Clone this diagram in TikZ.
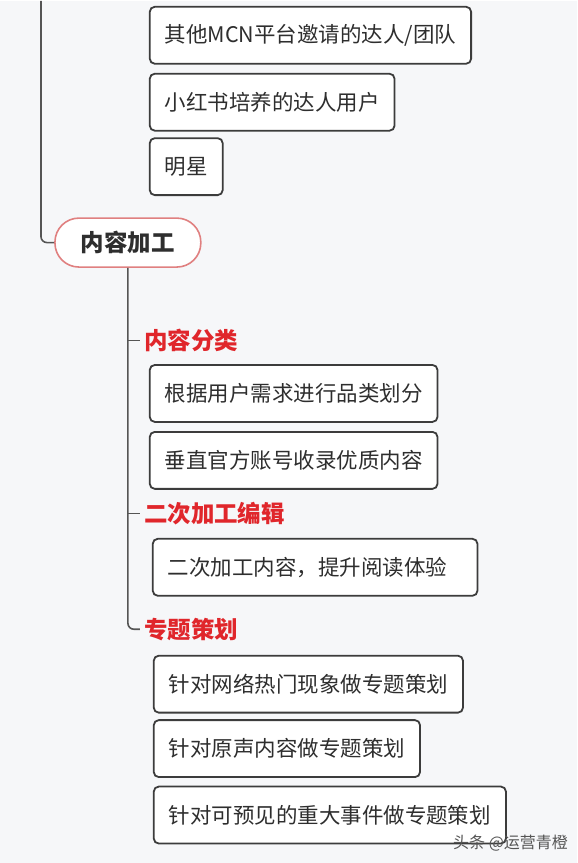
\documentclass[tikz,border=0pt]{standalone}
\usepackage{fontspec}
\newfontfamily\cjk{Noto Sans CJK SC}
\definecolor{fond}{HTML}{F6F7F9}
\definecolor{trait}{HTML}{555555}
\definecolor{cadre}{HTML}{3C3C3C}
\definecolor{texte}{HTML}{2E2E2E}
\definecolor{rouge}{HTML}{E0262B}
\definecolor{rose}{HTML}{E08080}
\begin{document}
\begin{tikzpicture}[x=1pt,y=-1pt]
            \tikzstyle{boite}=[draw=cadre,line width=1.8pt,rounded corners=5pt,fill=white,anchor=west,minimum height=57pt,inner xsep=15pt,text=texte,font=\cjk\fontsize{21.5}{22}\selectfont]
            \tikzstyle{titre}=[draw=rose,line width=1.6pt,rounded corners=24pt,fill=white,minimum width=146pt,minimum height=49pt,text=texte,font=\cjk\bfseries\fontsize{23.5}{24}\selectfont]
            \tikzstyle{rubrique}=[anchor=west,inner xsep=4pt,text=rouge,font=\cjk\bfseries\fontsize{23.5}{24}\selectfont]
            \tikzstyle{branche}=[draw=trait,line width=1.6pt,rounded corners=6pt]
            \fill[fond] (0,0) rectangle (578,863);
            \coordinate (haut) at (41,0);
            \node[boite] (mcn) at (149,34.5) {其他MCN平台邀请的达人/团队};
            \node[boite] (forme) at (149,101.5) {小红书培养的达人用户};
            \node[boite] (star) at (149,166) {明星};
            \node[titre] (contenu) at (128,242) {内容加工};
            \node[rubrique] (classe) at (140,340) {内容分类};
            \node[boite] (besoin) at (149,393) {根据用户需求进行品类划分};
            \node[boite] (vertical) at (149,460) {垂直官方账号收录优质内容};
            \node[rubrique] (edition) at (140,513) {二次加工编辑};
            \node[boite,text width=295pt,align=left] (lecture) at (152,567) {二次加工内容，提升阅读体验};
            \node[rubrique] (sujet) at (140,629) {专题策划};
            \node[boite] (reseau) at (153,684) {针对网络热门现象做专题策划};
            \node[boite] (voix) at (153,748.5) {针对原声内容做专题策划};
            \node[boite] (evenement) at (153,815) {针对可预见的重大事件做专题策划};
            \node[text=trait,font=\cjk\fontsize{16}{16}\selectfont] (marque) at (511,843) {头条 @运营青橙};
            \draw[branche] (haut) |- (contenu.west);
            \draw[branche] (contenu.south) |- (sujet.west);
            \draw[branche] (contenu.south |- classe.west) -- (classe.west);
            \draw[branche] (contenu.south |- edition.west) -- (edition.west);
\end{tikzpicture}
\end{document}
